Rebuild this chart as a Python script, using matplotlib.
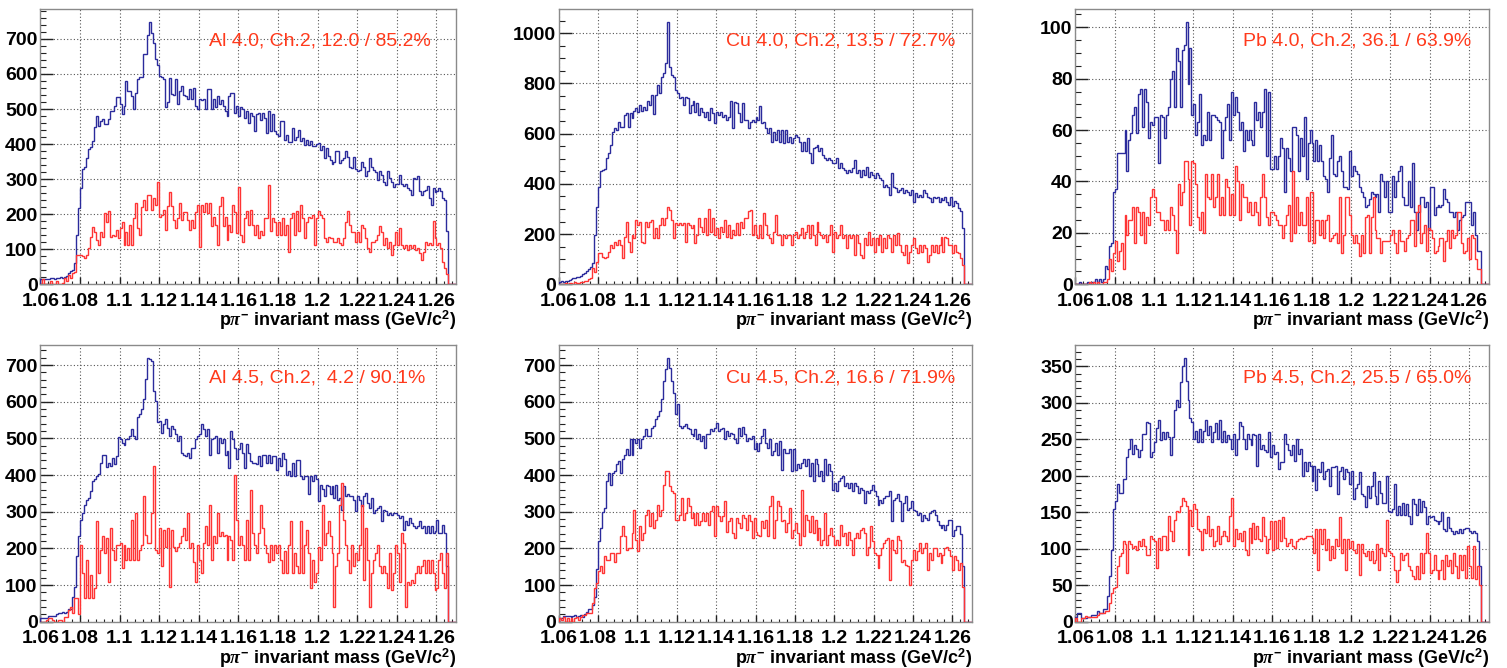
import numpy as np
import matplotlib.pyplot as plt
from matplotlib.ticker import MultipleLocator, FuncFormatter

# p pi- invariant mass, 1 MeV bins from 1.060 to 1.270 GeV/c^2
mass_lo = 1.06
mass_hi = 1.27
bin_w = 0.001

# Al, 4.0 GeV/c
al40_all = [
    15, 14, 15, 16, 15, 17, 18, 16, 19, 18,
    20, 19, 21, 25, 33, 38, 40, 60, 140, 218,
    275, 330, 335, 360, 385, 391, 410, 448, 481, 453,
    467, 472, 458, 458, 472, 495, 495, 509, 533, 533,
    514, 486, 509, 580, 552, 552, 538, 500, 547, 585,
    590, 590, 656, 656, 710, 748, 716, 688, 642, 627,
    594, 590, 585, 505, 519, 589, 542, 540, 585, 514,
    552, 566, 541, 538, 528, 557, 530, 561, 509, 500,
    530, 526, 530, 500, 557, 557, 500, 530, 505, 538,
    515, 525, 510, 495, 481, 538, 547, 545, 490, 510,
    480, 505, 500, 475, 495, 460, 490, 480, 437, 485,
    490, 470, 490, 475, 432, 495, 437, 485, 437, 430,
    422, 465, 465, 413, 427, 405, 405, 447, 413, 420,
    441, 408, 418, 398, 413, 398, 408, 394, 394, 400,
    403, 384, 394, 360, 389, 365, 355, 343, 350, 380,
    379, 345, 355, 360, 379, 362, 336, 331, 364, 330,
    324, 327, 350, 336, 308, 322, 360, 336, 327, 320,
    298, 322, 312, 293, 284, 322, 303, 293, 279, 285,
    285, 312, 285, 280, 285, 275, 270, 255, 303, 300,
    308, 265, 255, 265, 270, 280, 245, 227, 275, 262,
    265, 275, 265, 245, 241, 151, 0, 0, 0, 0,
]
al40_sel = [
    0, 14, 0, 0, 0, 8, 0, 0, 10, 0,
    0, 5, 18, 10, 27, 17, 31, 36, 84, 84,
    84, 81, 74, 84, 103, 136, 163, 150, 127, 112,
    148, 134, 203, 179, 210, 134, 141, 138, 155, 131,
    160, 179, 112, 148, 112, 170, 112, 189, 233, 160,
    141, 220, 241, 212, 255, 255, 212, 246, 227, 293,
    193, 198, 212, 155, 222, 262, 222, 184, 160, 188,
    231, 184, 207, 207, 184, 155, 184, 160, 207, 227,
    106, 227, 207, 231, 203, 233, 167, 193, 169, 112,
    222, 249, 165, 193, 127, 169, 150, 227, 207, 146,
    277, 141, 122, 189, 208, 170, 213, 170, 140, 170,
    132, 151, 141, 189, 189, 284, 151, 189, 179, 140,
    179, 140, 189, 140, 170, 93, 189, 203, 140, 208,
    151, 227, 189, 132, 179, 193, 189, 198, 112, 189,
    208, 198, 189, 132, 122, 136, 132, 132, 122, 122,
    132, 118, 112, 132, 179, 208, 170, 150, 150, 122,
    150, 122, 170, 160, 131, 103, 93, 122, 122, 127,
    141, 165, 150, 112, 131, 103, 122, 84, 112, 150,
    112, 160, 112, 103, 112, 98, 112, 103, 112, 98,
    103, 88, 70, 93, 122, 112, 117, 112, 181, 131,
    112, 117, 103, 65, 46, 30, 0, 0, 0, 0,
]

# Cu, 4.0 GeV/c
cu40_all = [
    10, 12, 10, 14, 15, 18, 20, 24, 25, 28,
    30, 34, 40, 45, 52, 62, 70, 84, 197, 309,
    389, 452, 455, 460, 502, 522, 555, 608, 621, 615,
    648, 628, 628, 675, 681, 628, 681, 661, 690, 701,
    688, 714, 690, 707, 694, 728, 714, 754, 677, 754,
    794, 761, 827, 840, 880, 1044, 867, 834, 827, 774,
    761, 741, 747, 714, 747, 741, 681, 714, 728, 688,
    721, 675, 701, 688, 668, 688, 655, 701, 681, 641,
    688, 675, 688, 668, 675, 655, 668, 728, 621, 726,
    721, 681, 648, 721, 655, 655, 621, 648, 655, 648,
    668, 655, 708, 641, 648, 621, 601, 621, 568, 608,
    575, 615, 568, 615, 562, 615, 568, 588, 562, 582,
    595, 588, 568, 529, 568, 529, 582, 522, 482, 542,
    548, 555, 529, 542, 515, 502, 495, 502, 495, 482,
    482, 502, 462, 482, 462, 455, 442, 455, 448, 462,
    496, 442, 455, 429, 455, 435, 468, 429, 448, 435,
    422, 442, 435, 422, 415, 389, 395, 389, 356, 442,
    389, 382, 369, 375, 382, 362, 375, 369, 356, 375,
    329, 362, 349, 356, 349, 375, 362, 349, 342, 329,
    349, 342, 349, 329, 342, 336, 349, 329, 316, 349,
    310, 330, 325, 303, 290, 223, 0, 0, 0, 0,
]
cu40_sel = [
    0, 3, 0, 5, 0, 4, 6, 3, 8, 4,
    6, 9, 11, 13, 14, 20, 26, 64, 50, 90,
    123, 123, 110, 104, 110, 130, 157, 143, 170, 157,
    177, 157, 104, 190, 247, 170, 130, 197, 183, 256,
    236, 250, 167, 163, 250, 230, 250, 256, 183, 223,
    183, 236, 263, 236, 263, 309, 296, 256, 183, 243,
    236, 243, 236, 243, 170, 243, 236, 223, 236, 163,
    197, 263, 230, 210, 263, 197, 300, 210, 263, 197,
    223, 183, 230, 210, 256, 190, 236, 183, 217, 197,
    243, 197, 250, 223, 263, 263, 290, 296, 197, 236,
    197, 183, 236, 183, 283, 236, 197, 183, 163, 210,
    274, 197, 197, 157, 197, 183, 197, 197, 157, 197,
    210, 183, 197, 223, 183, 210, 236, 183, 236, 197,
    157, 250, 210, 197, 183, 197, 170, 197, 236, 130,
    210, 183, 197, 236, 183, 197, 143, 197, 183, 197,
    117, 197, 163, 117, 104, 183, 157, 210, 157, 183,
    130, 183, 157, 197, 130, 183, 143, 197, 183, 130,
    197, 157, 205, 157, 130, 117, 157, 84, 130, 157,
    183, 143, 124, 157, 130, 157, 143, 90, 117, 157,
    130, 157, 124, 157, 190, 130, 190, 183, 157, 157,
    124, 157, 130, 124, 104, 77, 0, 0, 0, 0,
]

# Pb, 4.0 GeV/c
pb40_all = [
    0, 0, 1, 0, 0, 0, 1, 0, 1, 1,
    2, 1, 2, 1, 2, 7, 6, 15, 16, 36,
    37, 51, 51, 51, 51, 60, 44, 56, 59, 66,
    69, 59, 74, 76, 61, 76, 71, 57, 63, 62,
    65, 65, 47, 66, 65, 57, 66, 69, 80, 83,
    69, 92, 87, 69, 91, 93, 102, 78, 92, 66,
    70, 58, 63, 74, 54, 58, 56, 67, 56, 66,
    66, 65, 64, 63, 49, 60, 65, 70, 56, 75,
    66, 73, 67, 60, 63, 52, 60, 56, 60, 56,
    54, 71, 64, 67, 61, 67, 76, 50, 75, 45,
    45, 50, 45, 50, 57, 53, 36, 53, 49, 44,
    61, 61, 58, 44, 57, 50, 65, 41, 55, 60,
    55, 48, 56, 48, 54, 48, 42, 41, 36, 49,
    58, 43, 42, 48, 50, 44, 38, 38, 37, 52,
    42, 46, 44, 43, 38, 36, 34, 30, 31, 33,
    36, 35, 34, 35, 28, 43, 40, 34, 40, 28,
    28, 42, 34, 40, 44, 46, 34, 31, 31, 40,
    30, 47, 28, 21, 28, 34, 34, 30, 32, 21,
    38, 38, 27, 30, 31, 30, 31, 37, 33, 32,
    28, 28, 26, 28, 21, 25, 26, 27, 32, 32,
    32, 23, 28, 19, 13, 13, 0, 0, 0, 0,
]
pb40_sel = [
    0, 0, 0, 0, 0, 0, 0, 1, 0, 1,
    0, 1, 0, 0, 1, 1, 2, 10, 5, 12,
    17, 9, 13, 16, 6, 27, 19, 25, 25, 30,
    16, 30, 28, 19, 28, 16, 26, 23, 34, 37,
    34, 28, 28, 25, 25, 21, 25, 21, 30, 27,
    21, 12, 39, 31, 36, 48, 48, 41, 23, 48,
    47, 39, 26, 21, 28, 20, 43, 34, 33, 43,
    30, 34, 43, 27, 34, 27, 41, 38, 27, 35,
    27, 46, 40, 25, 39, 34, 34, 28, 32, 27,
    27, 32, 28, 23, 34, 43, 34, 26, 23, 28,
    28, 27, 25, 23, 23, 18, 23, 27, 31, 17,
    44, 20, 34, 23, 28, 23, 23, 34, 17, 36,
    36, 16, 25, 25, 19, 25, 18, 25, 27, 17,
    18, 19, 20, 16, 34, 12, 19, 34, 34, 27,
    19, 16, 19, 16, 11, 19, 12, 26, 27, 12,
    26, 34, 21, 18, 18, 12, 17, 17, 17, 17,
    19, 21, 16, 12, 21, 17, 17, 13, 18, 19,
    25, 25, 15, 28, 31, 16, 20, 23, 13, 22,
    21, 18, 12, 13, 15, 18, 18, 9, 17, 21,
    14, 21, 18, 19, 28, 28, 16, 12, 13, 18,
    10, 19, 18, 10, 6, 6, 0, 0, 0, 0,
]

# Al, 4.5 GeV/c
al45_all = [
    9, 9, 9, 9, 16, 16, 16, 16, 20, 23,
    23, 27, 25, 27, 34, 34, 68, 96, 178, 233,
    278, 297, 319, 333, 338, 356, 383, 388, 397, 402,
    433, 456, 456, 422, 433, 424, 447, 429, 452, 505,
    497, 488, 481, 497, 497, 506, 525, 506, 497, 557,
    566, 579, 607, 663, 718, 716, 712, 630, 602, 545,
    547, 516, 538, 552, 529, 506, 534, 525, 511, 493,
    506, 461, 456, 452, 461, 447, 474, 475, 497, 506,
    511, 538, 525, 506, 525, 456, 497, 502, 506, 461,
    502, 488, 497, 456, 465, 420, 520, 497, 474, 443,
    470, 488, 461, 420, 484, 461, 438, 434, 434, 429,
    452, 425, 456, 456, 434, 456, 434, 452, 452, 415,
    447, 424, 461, 443, 401, 411, 397, 434, 397, 440,
    442, 397, 388, 397, 397, 347, 397, 383, 401, 388,
    328, 374, 361, 342, 374, 370, 347, 370, 338, 374,
    333, 338, 306, 369, 342, 347, 342, 342, 333, 301,
    342, 333, 315, 342, 351, 324, 310, 338, 297, 306,
    310, 315, 274, 306, 301, 292, 297, 292, 297, 297,
    292, 283, 288, 251, 274, 265, 283, 269, 260, 256,
    260, 274, 256, 260, 242, 260, 242, 260, 242, 247,
    278, 242, 242, 265, 242, 151, 0, 0, 0, 0,
]
al45_sel = [
    0, 0, 0, 5, 9, 9, 5, 0, 0, 5,
    5, 0, 14, 14, 32, 41, 23, 64, 64, 21,
    210, 132, 64, 169, 64, 128, 64, 91, 274, 132,
    196, 233, 187, 228, 109, 255, 196, 169, 210, 210,
    214, 146, 210, 169, 201, 169, 278, 169, 297, 169,
    196, 210, 342, 237, 214, 214, 297, 426, 196, 187,
    255, 151, 251, 205, 255, 96, 251, 205, 192, 205,
    214, 233, 255, 224, 297, 201, 214, 164, 109, 210,
    169, 132, 214, 260, 210, 319, 169, 233, 214, 297,
    233, 246, 233, 237, 169, 233, 224, 169, 401, 278,
    210, 233, 210, 169, 278, 169, 360, 242, 210, 187,
    242, 319, 255, 210, 187, 164, 210, 169, 210, 187,
    210, 169, 132, 192, 132, 210, 274, 132, 187, 151,
    132, 274, 132, 210, 251, 187, 91, 169, 109, 132,
    205, 169, 319, 210, 242, 274, 233, 187, 41, 151,
    187, 319, 379, 278, 210, 169, 132, 210, 151, 187,
    169, 210, 319, 114, 255, 169, 41, 132, 169, 187,
    210, 151, 132, 151, 132, 91, 187, 87, 132, 210,
    187, 109, 242, 214, 41, 109, 100, 114, 105, 132,
    151, 132, 151, 169, 132, 169, 132, 169, 132, 87,
    91, 169, 187, 132, 91, 187, 0, 0, 0, 0,
]

# Cu, 4.5 GeV/c
cu45_all = [
    9, 9, 16, 16, 16, 16, 14, 16, 18, 14,
    16, 18, 14, 20, 27, 36, 36, 46, 68, 143,
    219, 255, 298, 310, 383, 406, 374, 406, 411, 429,
    438, 406, 443, 456, 470, 456, 497, 456, 497, 488,
    497, 474, 497, 506, 525, 506, 506, 529, 534, 552,
    561, 575, 607, 657, 689, 718, 691, 657, 625, 566,
    593, 534, 529, 534, 538, 529, 525, 511, 506, 525,
    497, 511, 493, 506, 474, 511, 511, 525, 520, 529,
    543, 520, 525, 529, 497, 520, 506, 516, 511, 497,
    488, 529, 506, 532, 511, 493, 502, 497, 506, 470,
    488, 465, 488, 506, 526, 488, 474, 497, 456, 465,
    488, 456, 493, 415, 470, 461, 461, 470, 411, 470,
    415, 429, 420, 433, 443, 424, 443, 397, 433, 383,
    443, 429, 397, 411, 383, 443, 401, 429, 411, 360,
    379, 356, 383, 392, 397, 370, 379, 365, 379, 356,
    379, 370, 351, 365, 360, 324, 356, 351, 360, 374,
    356, 342, 319, 333, 324, 338, 342, 342, 356, 274,
    333, 338, 347, 328, 274, 324, 342, 306, 310, 328,
    306, 301, 292, 297, 274, 292, 283, 278, 297, 301,
    306, 292, 274, 265, 255, 265, 251, 265, 278, 278,
    233, 251, 260, 260, 240, 151, 0, 0, 0, 0,
]
cu45_sel = [
    9, 5, 14, 0, 9, 0, 9, 0, 9, 14,
    5, 14, 18, 18, 23, 23, 23, 50, 91, 105,
    137, 151, 132, 178, 169, 169, 187, 187, 164, 187,
    187, 233, 260, 233, 196, 201, 201, 242, 306, 224,
    192, 260, 224, 242, 292, 306, 260, 297, 255, 278,
    319, 287, 306, 374, 411, 411, 370, 356, 351, 278,
    278, 292, 338, 278, 297, 338, 315, 283, 297, 265,
    297, 265, 274, 297, 274, 297, 265, 301, 315, 233,
    315, 287, 274, 287, 328, 246, 274, 283, 242, 228,
    283, 269, 255, 292, 283, 251, 292, 274, 228, 283,
    246, 237, 233, 274, 255, 278, 233, 315, 342, 228,
    278, 328, 315, 274, 278, 246, 269, 310, 228, 251,
    269, 242, 210, 360, 233, 292, 278, 246, 287, 242,
    278, 224, 255, 210, 224, 297, 210, 237, 255, 233,
    210, 224, 210, 265, 233, 242, 210, 246, 224, 182,
    228, 242, 228, 251, 255, 242, 182, 205, 260, 219,
    187, 182, 146, 182, 201, 215, 224, 228, 114, 224,
    196, 187, 233, 224, 164, 169, 155, 151, 100, 169,
    196, 169, 192, 214, 187, 201, 214, 141, 187, 169,
    201, 201, 178, 187, 160, 182, 201, 205, 196, 178,
    141, 178, 169, 141, 160, 96, 0, 0, 0, 0,
]

# Pb, 4.5 GeV/c
pb45_all = [
    7, 12, 12, 5, 5, 5, 7, 7, 9, 9,
    9, 14, 12, 12, 18, 18, 35, 62, 99, 154,
    166, 189, 177, 177, 196, 196, 226, 237, 251, 230,
    242, 237, 226, 235, 258, 258, 274, 272, 226, 233,
    246, 266, 276, 249, 260, 251, 260, 253, 228, 253,
    290, 304, 295, 329, 350, 361, 330, 304, 279, 274,
    251, 262, 246, 264, 246, 262, 276, 256, 269, 246,
    260, 272, 251, 276, 246, 262, 246, 256, 251, 237,
    258, 228, 251, 274, 269, 251, 237, 258, 251, 242,
    258, 256, 214, 258, 237, 242, 235, 233, 260, 226,
    242, 230, 233, 209, 219, 219, 258, 244, 235, 228,
    242, 221, 251, 230, 237, 200, 219, 207, 219, 214,
    193, 214, 180, 209, 205, 219, 196, 207, 209, 186,
    212, 212, 214, 175, 207, 212, 196, 209, 205, 189,
    207, 168, 184, 189, 205, 175, 173, 157, 186, 170,
    186, 205, 173, 161, 193, 177, 163, 163, 200, 152,
    150, 154, 189, 147, 159, 147, 163, 147, 161, 145,
    134, 168, 161, 147, 168, 150, 166, 157, 134, 145,
    143, 145, 140, 138, 134, 138, 150, 127, 124, 143,
    129, 124, 120, 124, 122, 127, 122, 127, 129, 129,
    124, 122, 124, 122, 110, 76, 0, 0, 0, 0,
]
pb45_sel = [
    5, 0, 0, 5, 5, 8, 7, 7, 7, 7,
    7, 9, 12, 12, 12, 14, 14, 25, 39, 46,
    48, 76, 90, 94, 110, 106, 67, 110, 106, 101,
    104, 99, 110, 104, 113, 104, 92, 92, 117, 113,
    110, 74, 115, 99, 117, 117, 99, 145, 124, 110,
    140, 152, 150, 159, 169, 166, 159, 92, 153, 131,
    161, 154, 127, 124, 99, 127, 122, 145, 117, 127,
    104, 110, 131, 106, 117, 124, 117, 110, 145, 169,
    104, 127, 113, 122, 110, 124, 99, 92, 129, 108,
    136, 113, 131, 113, 110, 143, 117, 94, 113, 138,
    99, 138, 101, 140, 110, 143, 115, 104, 108, 113,
    104, 101, 110, 113, 115, 113, 115, 117, 117, 117,
    115, 94, 127, 71, 127, 106, 127, 99, 113, 85,
    104, 87, 113, 104, 143, 94, 113, 71, 113, 101,
    110, 99, 94, 106, 64, 106, 94, 90, 97, 85,
    97, 80, 85, 106, 71, 101, 94, 90, 140, 97,
    94, 90, 71, 55, 71, 94, 85, 92, 94, 76,
    71, 62, 58, 76, 58, 94, 67, 94, 122, 94,
    67, 71, 92, 71, 58, 71, 85, 58, 92, 76,
    85, 67, 94, 76, 60, 92, 71, 92, 60, 104,
    76, 60, 104, 58, 76, 51, 0, 0, 0, 0,
]

panel_text = [
    'Al 4.0, Ch.2, 12.0 / 85.2%',
    'Cu 4.0, Ch.2, 13.5 / 72.7%',
    'Pb 4.0, Ch.2, 36.1 / 63.9%',
    'Al 4.5, Ch.2,  4.2 / 90.1%',
    'Cu 4.5, Ch.2, 16.6 / 71.9%',
    'Pb 4.5, Ch.2, 25.5 / 65.0%',
]
all_spectra = [al40_all, cu40_all, pb40_all, al45_all, cu45_all, pb45_all]
sel_spectra = [al40_sel, cu40_sel, pb40_sel, al45_sel, cu45_sel, pb45_sel]

# y axis divisions (major, minor) per pad
y_div = [(100, 20), (200, 50), (20, 5), (100, 20), (100, 20), (50, 10)]

plt.rcParams['font.family'] = ['Liberation Sans', 'DejaVu Sans']
plt.rcParams['font.weight'] = 'bold'
plt.rcParams['mathtext.fontset'] = 'custom'
plt.rcParams['mathtext.rm'] = 'Liberation Sans:bold'
plt.rcParams['mathtext.bf'] = 'Liberation Sans:bold'
plt.rcParams['mathtext.it'] = 'Liberation Serif:italic'

W, H = 1507, 668
fig = plt.figure(figsize=(W / 100, H / 100), dpi=100)

# pad frames in pixels
lefts = [40.3, 558.7, 1075.3]
rights = [456.3, 972.0, 1488.7]
tops = [9.0, 345.3]
bottoms = [284.3, 621.7]

blue = '#2b2b9c'
red = '#ff3434'
text_red = '#ff3a1c'

for i in range(6):
    r, c = divmod(i, 3)
    ax = fig.add_axes([lefts[c] / W, 1 - bottoms[r] / H,
                       (rights[c] - lefts[c]) / W, (bottoms[r] - tops[r]) / H])
    h_all = np.array(all_spectra[i])
    h_sel = np.array(sel_spectra[i])
    edges = mass_lo + bin_w * np.arange(len(h_all) + 1)

    ax.stairs(h_all, edges, color=blue, lw=1.0, zorder=3)
    ax.stairs(h_sel, edges, color=red, lw=1.0, zorder=3)

    ax.set_xlim(mass_lo, mass_hi)
    ax.set_ylim(0, 1.05 * h_all.max())

    ax.xaxis.set_major_locator(MultipleLocator(0.02))
    ax.xaxis.set_minor_locator(MultipleLocator(0.004))
    ax.xaxis.set_major_formatter(FuncFormatter(lambda v, p: '%g' % round(v, 3)))
    ax.yaxis.set_major_locator(MultipleLocator(y_div[i][0]))
    ax.yaxis.set_minor_locator(MultipleLocator(y_div[i][1]))

    ax.set_axisbelow(True)
    ax.grid(True, which='major', color='#555555', lw=0.8, ls=(0, (1, 2)))

    ax.tick_params(axis='both', which='both', direction='in', colors='#222222',
                   labelcolor='black', labelsize=14)
    ax.tick_params(axis='y', which='major', length=9, width=1.0, pad=2)
    ax.tick_params(axis='y', which='minor', length=4.5, width=0.8)
    ax.tick_params(axis='x', which='major', length=5, width=1.0, pad=6)
    ax.tick_params(axis='x', which='minor', length=2.5, width=0.8)
    for s in ax.spines.values():
        s.set_color('#8a8a8a')
        s.set_linewidth(1.0)

    ax.text(1.0, -0.152, r'p$\mathit{\pi}^{\mathbf{-}}$ invariant mass (GeV/c$^{\mathbf{2}}$)',
            transform=ax.transAxes, ha='right', va='baseline', fontsize=13,
            fontweight='bold')
    ax.text(0.405, 0.866, panel_text[i], transform=ax.transAxes,
            ha='left', va='baseline', fontsize=14, fontweight='normal',
            color=text_red)

fig.savefig('out.png', dpi=100)
